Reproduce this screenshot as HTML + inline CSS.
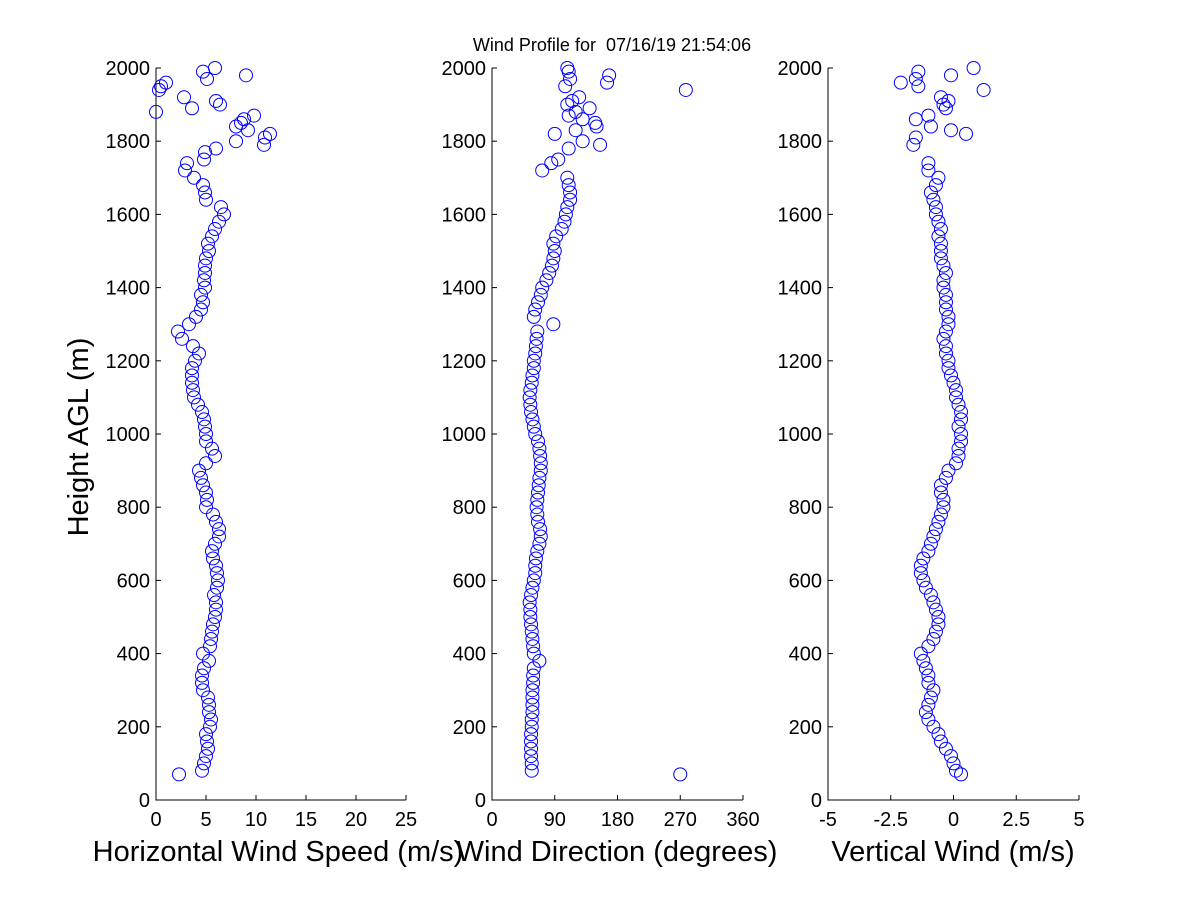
<!DOCTYPE html>
<html><head><meta charset="utf-8"><style>
body{margin:0;background:#fff}
svg{display:block;font-family:"Liberation Sans",sans-serif}
text{white-space:pre}
</style></head><body>
<svg id="c" width="1200" height="900" viewBox="0 0 1200 900">
<rect width="1200" height="900" fill="#fff"/>
<text x="612" y="51" font-size="18" text-anchor="middle">Wind Profile for  07/16/19 21:54:06</text>
<text transform="translate(88,437) rotate(-90)" font-size="29" text-anchor="middle">Height AGL (m)</text>
</svg>
<script>
const heights=[80,100,120,140,160,180,200,220,240,260,280,300,320,340,360,380,400,420,440,460,480,500,520,540,560,580,600,620,640,660,680,700,720,740,760,780,800,820,840,860,880,900,920,940,960,980,1000,1020,1040,1060,1080,1100,1120,1140,1160,1180,1200,1220,1240,1260,1280,1300,1320,1340,1360,1380,1400,1420,1440,1460,1480,1500,1520,1540,1560,1580,1600,1620,1640,1660,1680,1700,1720,1740];
const speed=[4.6,4.8,5.0,5.2,5.1,5.0,5.4,5.5,5.3,5.3,5.2,4.7,4.6,4.6,4.8,5.3,4.7,5.4,5.5,5.6,5.7,5.9,6.0,6.0,5.8,6.1,6.2,6.1,6.0,5.7,5.6,5.9,6.3,6.3,6.0,5.7,5.0,5.1,5.0,4.7,4.5,4.3,5.0,5.9,5.6,5.0,5.0,4.9,4.8,4.6,4.2,3.8,3.7,3.6,3.6,3.6,3.9,4.3,3.7,2.6,2.2,3.3,4.0,4.5,4.7,4.5,4.9,4.8,4.9,4.9,5.0,5.3,5.2,5.6,5.9,6.3,6.8,6.5,5.0,4.9,4.7,3.8,2.9,3.1];
const direction=[57,57,56,56,56,56,57,57,58,58,58,58,59,59,60,68,60,59,58,57,56,55,55,54,56,58,60,62,62,63,65,68,70,69,66,65,64,65,66,67,68,70,70,69,68,66,62,60,58,56,55,54,55,57,58,60,60,62,63,64,65,88,60,62,66,70,72,78,82,86,88,90,88,92,100,104,106,108,112,112,110,108,72,85];
const vertical=[0.1,0,-0.1,-0.3,-0.5,-0.6,-0.8,-1.0,-1.1,-1.0,-0.9,-0.8,-1.0,-1.0,-1.1,-1.2,-1.3,-1.0,-0.8,-0.7,-0.6,-0.6,-0.7,-0.8,-0.9,-1.1,-1.2,-1.3,-1.3,-1.2,-1.0,-0.9,-0.8,-0.7,-0.6,-0.5,-0.4,-0.4,-0.5,-0.5,-0.3,-0.2,0.1,0.2,0.2,0.3,0.3,0.2,0.3,0.3,0.2,0.1,0.1,0.0,-0.1,-0.2,-0.2,-0.3,-0.3,-0.4,-0.3,-0.2,-0.2,-0.3,-0.3,-0.3,-0.4,-0.4,-0.3,-0.4,-0.5,-0.5,-0.5,-0.6,-0.5,-0.6,-0.7,-0.7,-0.8,-0.9,-0.7,-0.6,-1.0,-1.0];
const speedExtraH=[70,1750,1770,1780,1800,1790,1810,1820,1840,1830,1850,1860,1870,1880,1890,1900,1910,1920,1940,1950,1960,1970,1980,1990,2000];
const speedExtra=[2.3,4.8,4.9,6.0,8.0,10.8,10.9,11.4,8.0,9.2,8.5,8.8,9.8,0,3.6,6.4,6.0,2.8,0.3,0.5,1.0,5.1,9.0,4.7,5.9];
const dirExtraH=[70,1750,1780,1790,1800,1820,1830,1840,1850,1860,1870,1880,1890,1900,1910,1920,1940,1950,1960,1970,1980,1990,2000];
const dirExtra=[270,95,110,155,130,90,120,150,148,130,110,120,140,108,115,125,278,105,165,112,168,110,108];
const vertExtraH=[70,1790,1810,1830,1820,1840,1860,1870,1890,1900,1910,1920,1940,1950,1960,1970,1980,1990,2000];
const vertExtra=[0.3,-1.6,-1.5,-0.1,0.5,-0.9,-1.5,-1.0,-0.3,-0.4,-0.2,-0.5,1.2,-1.4,-2.1,-1.5,-0.1,-1.4,0.8];
const yTicks=[0,200,400,600,800,1000,1200,1400,1600,1800,2000];
const speedTicks=[0,5,10,15,20,25];
const dirTicks=[0,90,180,270,360];
const vertTicks=[-5,-2.5,0,2.5,5];

const NS="http://www.w3.org/2000/svg";
const svg=document.getElementById('c');
const Y0=800,Y1=68;
function yScale(h){return Y0+(Y1-Y0)*h/2000;}
function mk(tag,attrs,parent){const e=document.createElementNS(NS,tag);for(const k in attrs)e.setAttribute(k,attrs[k]);(parent||svg).appendChild(e);return e;}
function panel(name,x0,x1,min,max,ticks,title,tx0,hs,vals,eh,ev){
  const g=mk('g',{});
  
  
  const xs=v=>x0+(x1-x0)*(v-min)/(max-min);
  const ax=mk('path',{d:`M${x0},${Y1}V${Y0}H${x1}`,stroke:'#000','stroke-width':1,fill:'none'},g);
  
  
  yTicks.forEach(t=>{
    const y=yScale(t);
    mk('line',{x1:x0,x2:x0+5,y1:y,y2:y,stroke:'#000'},g);
    const tx=mk('text',{x:x0-6,y:y+7,'font-size':20,'text-anchor':'end'},g);
    tx.textContent=t;
    
    
  });
  ticks.forEach(t=>{
    const x=xs(t);
    mk('line',{x1:x,x2:x,y1:Y0,y2:Y0-5,stroke:'#000'},g);
    const tx=mk('text',{x:x,y:Y0+26,'font-size':20,'text-anchor':'middle'},g);
    tx.textContent=t;
    
    
  });
  const tt=mk('text',{x:tx0,y:861,'font-size':29,'text-anchor':'middle'},g);
  tt.textContent=title;
  
  
  const draw=(H,V)=>{const n=Math.min(H.length,V.length);for(let i=0;i<n;i++){
    const c=mk('circle',{cx:xs(V[i]),cy:yScale(H[i]),r:6.5,fill:'none',stroke:'#0000ff','stroke-width':1},g);
    
    
  }};
  draw(hs,vals);draw(eh,ev);
}
panel('speed',156,406,0,25,speedTicks,'Horizontal Wind Speed (m/s)',278,heights,speed,speedExtraH,speedExtra);
panel('direction',492,743,0,360,dirTicks,'Wind Direction (degrees)',617,heights,direction,dirExtraH,dirExtra);
panel('vertical',828,1079,-5,5,vertTicks,'Vertical Wind (m/s)',953,heights,vertical,vertExtraH,vertExtra);
</script>
</body></html>
